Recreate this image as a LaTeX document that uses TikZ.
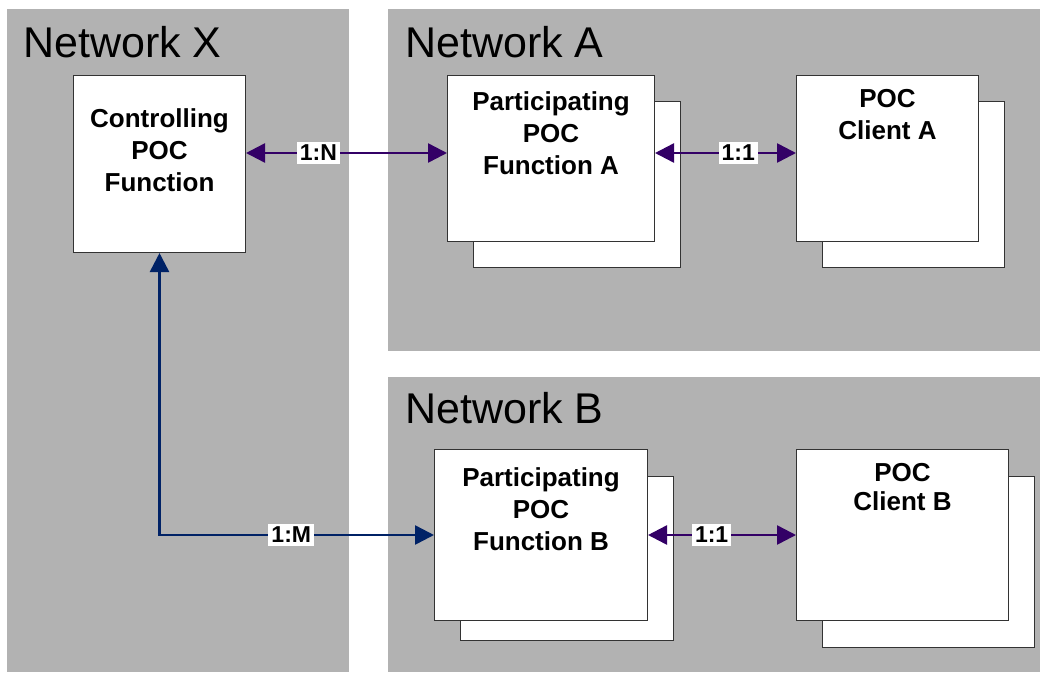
\documentclass[tikz,border=0pt]{standalone}
\usepackage{fontspec}
\setmainfont{Liberation Sans}
\usetikzlibrary{arrows.meta}
\definecolor{zonegrey}{HTML}{B2B2B2}
\definecolor{linkpurple}{HTML}{330066}
\definecolor{linknavy}{HTML}{002266}

\begin{document}
\begin{tikzpicture}[x=1pt, y=-1pt,
    netzone/.style={fill=zonegrey, inner sep=0pt, anchor=north west},
    zonetitle/.style={anchor=base west, inner sep=0pt, font=\fontsize{43}{48}\selectfont},
    pocbox/.style={draw=black!80, line width=1pt, fill=white, inner sep=0pt, anchor=north west},
    boxtext/.style={anchor=north, inner sep=0pt, align=center, font=\bfseries\fontsize{26}{32}\selectfont},
    link/.style={line width=2.5pt, {Triangle[length=19pt,width=19pt]}-{Triangle[length=19pt,width=19pt]}},
    lbl/.style={fill=white, inner xsep=3pt, inner ysep=3.5pt, font=\bfseries\fontsize{23}{24}\selectfont}]
    \useasboundingbox (0,0) rectangle (1040,672);
    \fill[white] (0,0) rectangle (1040,672);

    % networks
    \node[netzone, minimum width=342pt, minimum height=663pt] (netX) at (7,9) {};
    \node[netzone, minimum width=652pt, minimum height=342pt] (netA) at (388,9) {};
    \node[netzone, minimum width=652pt, minimum height=295pt] (netB) at (388,377) {};
    \node[zonetitle] (titleX) at ([xshift=16pt, yshift=-48pt]netX.north west) {Network X};
    \node[zonetitle] (titleA) at ([xshift=17pt, yshift=-48pt]netA.north west) {Network A};
    \node[zonetitle] (titleB) at ([xshift=17pt, yshift=-46pt]netB.north west) {Network B};

    % boxes (back copy first)
    \node[pocbox, minimum width=172pt, minimum height=177pt] (ctrl) at (73,75) {};
    \node[pocbox, minimum width=207pt, minimum height=166pt] (partAback) at (473,101) {};
    \node[pocbox, minimum width=207pt, minimum height=166pt] (partA) at (447,75) {};
    \node[pocbox, minimum width=182pt, minimum height=166pt] (cliAback) at (822,101) {};
    \node[pocbox, minimum width=182pt, minimum height=166pt] (cliA) at (796,75) {};
    \node[pocbox, minimum width=213pt, minimum height=164pt] (partBback) at (460,476) {};
    \node[pocbox, minimum width=213pt, minimum height=171pt] (partB) at (434,449) {};
    \node[pocbox, minimum width=212pt, minimum height=171pt] (cliBback) at (822,476) {};
    \node[pocbox, minimum width=212pt, minimum height=171pt] (cliB) at (796,449) {};

    \node[boxtext] (ctrltext) at ([yshift=-33pt]ctrl.north) {Controlling\\POC\\Function};
    \node[boxtext] (partAtext) at ([yshift=-16pt]partA.north) {Participating\\POC\\Function A};
    \node[boxtext] (cliAtext) at ([yshift=-14pt]cliA.north) {POC\\Client A};
    \node[boxtext] (partBtext) at ([yshift=-18pt]partB.north) {Participating\\POC\\Function B};
    \node[boxtext, font=\bfseries\fontsize{26}{29}\selectfont] (cliBtext) at ([yshift=-14pt]cliB.north) {POC\\Client B};

    % connectors
    \coordinate (rowA) at (0,153);
    \draw[link, linkpurple] (ctrl.east |- rowA) -- (partA.west |- rowA) node[lbl, pos=0.36, text=black] {1:N};
    \draw[link, linkpurple] (partA.east |- rowA) -- (cliA.west |- rowA) node[lbl, pos=0.59, text=black] {1:1};
    \draw[link, linknavy] (ctrl.south) |- (partB.west) node[lbl, pos=0.74, text=black] {1:M};
    \draw[link, linkpurple] (partB.east) -- (cliB.west) node[lbl, pos=0.43, text=black] {1:1};

\end{tikzpicture}
\end{document}
